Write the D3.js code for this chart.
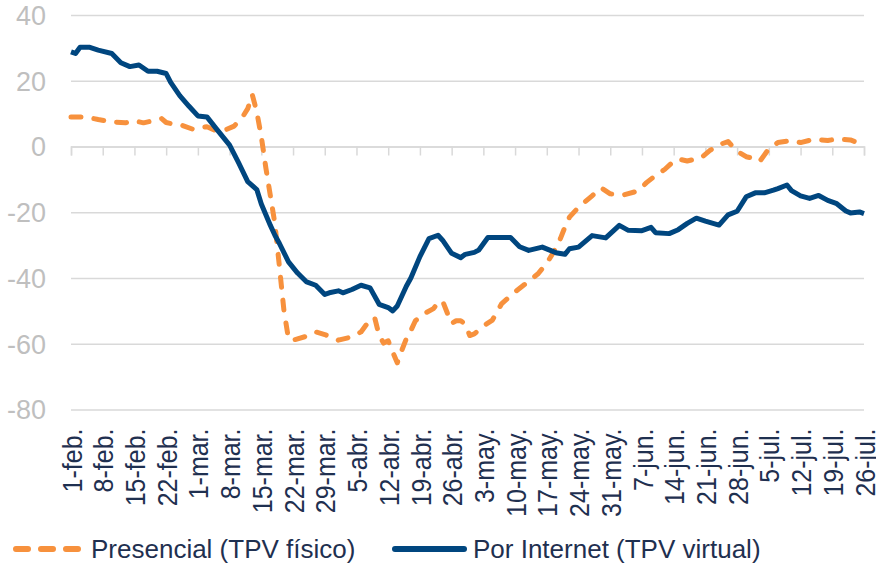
<!DOCTYPE html>
<html><head><meta charset="utf-8">
<script src="https://cdn.jsdelivr.net/npm/d3@7"></script>
<style>
html,body{margin:0;padding:0;background:#fff;}
svg{display:block;font-family:"Liberation Sans",Arial,sans-serif;}
</style></head>
<body><svg id="chart" width="876" height="563"></svg>
<script>
// Days counted from 1-feb (day 0) to 26-jul (day 175)
const tickLabels = ["1-feb.","8-feb.","15-feb.","22-feb.","1-mar.","8-mar.","15-mar.","22-mar.","29-mar.","5-abr.","12-abr.","19-abr.","26-abr.","3-may.","10-may.","17-may.","24-may.","31-may.","7-jun.","14-jun.","21-jun.","28-jun.","5-jul.","12-jul.","19-jul.","26-jul."];
const yTicks = [-80,-60,-40,-20,0,20,40];
const seriesNames = ["Presencial (TPV físico)","Por Internet (TPV virtual)"];

const presencialDays = [0,2,4,6,9,12,14,16,18,20,21,22,24,27,29,30,32,34,36,38,39,40,41,42,43,44,45,46,47,48,49,52,54,56,59,62,64,65,66,67,68,69,70,71,72,73,74,75,76,78,80,81,82,83,84,85,86,87,88,89,91,93,95,98,101,103,105,107,108,109,110,112,115,117,119,122,125,127,129,131,133,134,136,139,141,143,145,147,149,151,152,154,156,159,161,164,167,169,172,174,175];
const presencialValues = [9.0,9.0,8.8,8.2,7.5,7.2,7.8,7.2,7.8,8.5,7.3,7.0,6.7,5.2,5.8,6.0,4.8,5.0,6.2,9.3,11.5,15.8,10.5,3.0,-6.5,-15,-23.5,-36.6,-50,-58.5,-58.9,-57.7,-56.4,-57.2,-58.9,-57.9,-56.4,-54.5,-53.0,-52.0,-57.5,-59.8,-59.1,-62.5,-65.8,-62.0,-58.5,-56.0,-53.0,-50.8,-49.3,-47.5,-47.0,-50.5,-53.8,-53.0,-53.0,-54.0,-57.5,-57.0,-54.6,-52.8,-47.9,-44.2,-41.0,-38.8,-35.5,-31.0,-28.0,-24.5,-21.5,-18.5,-15.0,-12.6,-14.4,-14.7,-13.6,-11.0,-8.8,-7.0,-4.5,-3.8,-4.4,-3.5,-1.2,0.5,1.5,-1.4,-3.1,-3.7,-4.5,-0.7,1.2,1.8,1.2,2.2,1.8,2.3,2.0,1.0,0.0];

const internetDays = [0,1,2,4,6,9,11,13,15,17,19,21,22,24,26,28,30,32,35,37,39,41,42,44,45,46,48,50,52,54,56,57,59,60,62,64,66,68,70,71,72,74,75,77,79,81,82,84,86,87,89,90,92,97,99,101,104,107,109,110,112,115,118,121,123,126,128,129,132,134,136,138,140,143,145,147,149,151,153,155,156,158,159,161,163,165,167,169,171,172,174,175];
const internetValues = [28.8,28.3,30.2,30.2,29.3,28.3,25.5,24.3,24.8,22.9,22.9,22.2,19.5,15.5,12.3,9.3,9.0,5.5,0.4,-5.0,-10.7,-13.1,-17.5,-24,-27,-29.5,-35.1,-38.5,-41.2,-42.2,-45.0,-44.5,-43.9,-44.5,-43.5,-42.2,-43.0,-48.0,-49.0,-50.0,-48.5,-42.5,-40,-33.5,-28.0,-27.0,-28.5,-32.5,-33.8,-32.8,-32.2,-31.5,-27.7,-27.7,-30.5,-31.6,-30.6,-32.3,-32.8,-31.1,-30.6,-27.1,-27.8,-24.0,-25.5,-25.6,-24.6,-26.2,-26.5,-25.3,-23.4,-21.8,-22.7,-23.9,-20.8,-19.7,-15.3,-14.1,-14.1,-13.3,-12.8,-11.7,-13.4,-15.0,-15.8,-14.9,-16.4,-17.4,-19.6,-20.2,-19.9,-20.4];

const colPres = "#f7913d", colNet = "#00467f";

const svg = d3.select("#chart");
const L = 71, R = 864, T = 15, B = 409.5;
const x = d3.scaleLinear().domain([0, 175]).range([L, R]);
const y = d3.scaleLinear().domain([-80, 40]).range([B, T]);

// gridlines + y labels
const yAxis = svg.append("g").attr("transform", `translate(${L},0)`)
  .call(d3.axisLeft(y).tickValues(yTicks).tickSize(-(R - L)).tickPadding(25).tickFormat(d => String(d)));
yAxis.select(".domain").remove();
yAxis.selectAll(".tick line").attr("stroke", "#d9d9d9").attr("stroke-width", 1.5);
yAxis.selectAll(".tick text").attr("fill", "#bfbfbf").attr("font-size", 27).attr("dy", "0.35em")
  .attr("font-family", "'Liberation Sans',Arial,sans-serif");

// category tick marks on the zero line
const tickDays = tickLabels.map((d, i) => i * 7);
const zeroAxis = svg.append("g").attr("transform", `translate(0,${y(0)})`)
  .call(d3.axisBottom(x).tickValues(tickDays).tickSize(9).tickFormat(""));
zeroAxis.select(".domain").attr("stroke", "#d9d9d9").attr("stroke-width", 1.5);
zeroAxis.selectAll(".tick line").attr("stroke", "#d9d9d9").attr("stroke-width", 1.5);

// rotated labels at bottom
const labAxis = svg.append("g").attr("transform", `translate(0,${B})`)
  .call(d3.axisBottom(x).tickValues(tickDays).tickSize(0).tickFormat((d, i) => tickLabels[i]));
labAxis.select(".domain").remove();
labAxis.selectAll(".tick text")
  .attr("fill", "#1f3050").attr("font-size", 25)
  .attr("font-family", "'Liberation Sans',Arial,sans-serif")
  .attr("text-anchor", "end").attr("transform", "rotate(-90) scale(1,1.12)")
  .attr("x", -19).attr("y", 0).attr("dy", "0.36em");

// lines
const line = d3.line().x(d => x(d[0])).y(d => y(d[1])).curve(d3.curveLinear);
const presData = presencialDays.map((d, i) => [d, presencialValues[i]]);
const netData = internetDays.map((d, i) => [d, internetValues[i]]);

svg.append("path").datum(presData).attr("d", line).attr("fill", "none")
  .attr("stroke", colPres).attr("stroke-width", 5).attr("stroke-linecap", "round")
  .attr("stroke-linejoin", "round").attr("stroke-dasharray", "10,13");
svg.append("path").datum(netData).attr("d", line).attr("fill", "none")
  .attr("stroke", colNet).attr("stroke-width", 5).attr("stroke-linejoin", "round");

// legend
const lg = svg.append("g");
lg.append("line").attr("x1", 16).attr("x2", 80).attr("y1", 549).attr("y2", 549)
  .attr("stroke", colPres).attr("stroke-width", 6).attr("stroke-linecap", "round")
  .attr("stroke-dasharray", "12,13");
lg.append("text").attr("x", 91).attr("y", 558).attr("font-size", 26).attr("fill", "#1f3050")
  .text(seriesNames[0]);
lg.append("line").attr("x1", 395).attr("x2", 464).attr("y1", 549).attr("y2", 549)
  .attr("stroke", colNet).attr("stroke-width", 6).attr("stroke-linecap", "round");
lg.append("text").attr("x", 473).attr("y", 558).attr("font-size", 26).attr("fill", "#1f3050")
  .text(seriesNames[1]);
</script></body></html>
